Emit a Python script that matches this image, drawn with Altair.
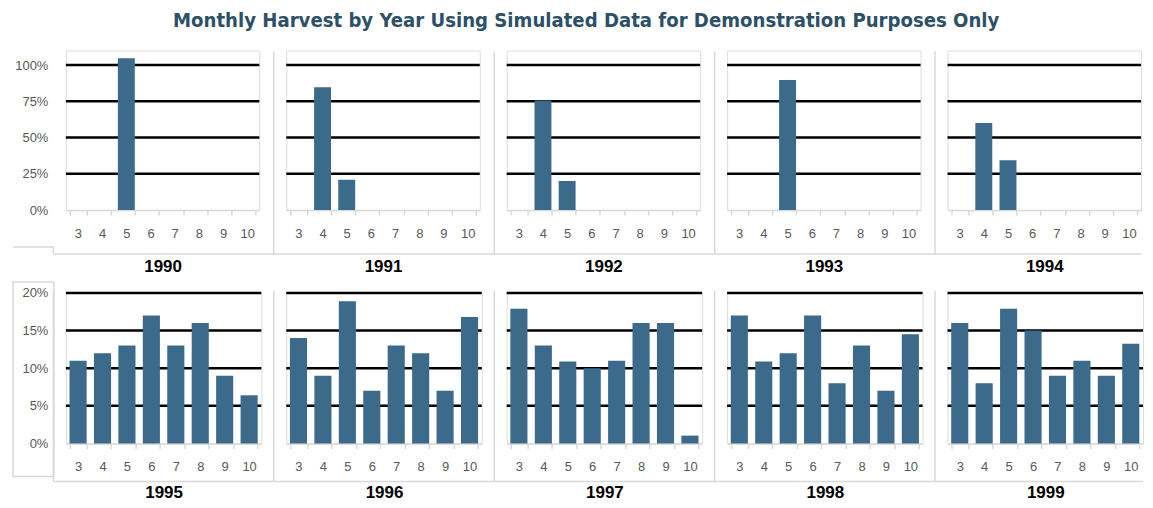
import altair as alt
import pandas as pd

months = [3, 4, 5, 6, 7, 8, 9, 10]
top_years = [1990, 1991, 1992, 1993, 1994]
bottom_years = [1995, 1996, 1997, 1998, 1999]

harvest_1990 = [0, 0, 1.046, 0, 0, 0, 0, 0]
harvest_1991 = [0, 0.847, 0.21, 0, 0, 0, 0, 0]
harvest_1992 = [0, 0.755, 0.20, 0, 0, 0, 0, 0]
harvest_1993 = [0, 0, 0.897, 0, 0, 0, 0, 0]
harvest_1994 = [0, 0.60, 0.343, 0, 0, 0, 0, 0]
harvest_1995 = [0.11, 0.12, 0.13, 0.17, 0.13, 0.16, 0.09, 0.064]
harvest_1996 = [0.14, 0.09, 0.189, 0.07, 0.13, 0.12, 0.07, 0.168]
harvest_1997 = [0.179, 0.13, 0.109, 0.10, 0.11, 0.16, 0.16, 0.0105]
harvest_1998 = [0.17, 0.109, 0.12, 0.17, 0.08, 0.13, 0.07, 0.145]
harvest_1999 = [0.16, 0.08, 0.179, 0.15, 0.09, 0.11, 0.09, 0.1325]

top_values = [harvest_1990, harvest_1991, harvest_1992, harvest_1993, harvest_1994]
bottom_values = [harvest_1995, harvest_1996, harvest_1997, harvest_1998, harvest_1999]

top_ticks = [0, 0.25, 0.5, 0.75, 1.0]
bottom_ticks = [0, 0.05, 0.10, 0.15, 0.20]

TITLE = "Monthly Harvest by Year Using Simulated Data for Demonstration Purposes Only"
BAR = "#3b6a8b"
BORDER = "#d9d9d9"
LABEL = "#595959"
FONT = "Liberation Sans"
TITLE_FONT = "DejaVu Sans Condensed, Liberation Sans Narrow, Roboto, sans-serif"
one = pd.DataFrame({"k": [0]})


def rule(x1, x2, y1, y2):
    return alt.Chart(one).mark_rule(color=BORDER, strokeWidth=1.5).encode(
        x=alt.value(x1), x2=alt.value(x2), y=alt.value(y1), y2=alt.value(y2)
    )


def panel(year, vals, col, top):
    w = 194 if top else 196
    h = 160 if top else 151
    ymax = 1.1 if top else 0.2
    ticks = top_ticks if top else bottom_ticks
    gap = 27 if top else 25
    df = pd.DataFrame({"month": months, "share": vals})
    grid_df = pd.DataFrame({"g": ticks[1:]})
    yscale = alt.Scale(domain=[0, ymax], nice=False, zero=True)
    if col == 0:
        yaxis = alt.Axis(values=ticks, format=".0%", grid=False, domain=False, ticks=False,
                         labelColor=LABEL, labelFontSize=13, labelFont=FONT,
                         labelPadding=18, title=None)
    else:
        yaxis = None
    xaxis = alt.Axis(title=str(year), labelAngle=0, tickBand="extent",
                     domainColor=BORDER, domainWidth=1.5, tickColor=BORDER, tickWidth=1.5,
                     tickSize=5, labelColor=LABEL, labelFontSize=13, labelFont=FONT,
                     labelPadding=12, titleFont=FONT, titleFontSize=17,
                     titleFontWeight="bold", titleColor="black",
                     titlePadding=19 if top else 11)

    layers = []
    bottom_y = h + 44 if top else h + 38
    right_end = (w + gap - 12.5) if col < 4 else w
    layers.append(rule(-12.5, right_end, bottom_y, bottom_y))
    if col > 0:
        layers.append(rule(-12.5, -12.5, 1 if top else -2, bottom_y))
    else:
        if top:
            layers.append(rule(-12.5, -12.5, bottom_y - 7, bottom_y))
            layers.append(rule(-53, -12.5, bottom_y - 7, bottom_y - 7))
        else:
            layers.append(rule(-12.5, -12.5, -2, bottom_y))
            layers.append(alt.Chart(one).mark_rect(fillOpacity=0, stroke=BORDER, strokeWidth=1.5).encode(
                x=alt.value(-53), x2=alt.value(-12), y=alt.value(-11), y2=alt.value(bottom_y - 5)))

    grid = alt.Chart(grid_df).mark_rule(color="black", strokeWidth=2.5).encode(
        y=alt.Y("g:Q", scale=yscale, axis=yaxis)
    )
    bars = alt.Chart(df).mark_bar(color=BAR).encode(
        x=alt.X("month:O", scale=alt.Scale(domain=months, paddingInner=0.3, paddingOuter=0.15), axis=xaxis),
        y=alt.Y("share:Q", scale=yscale, axis=yaxis),
    ).transform_filter(alt.datum.share > 0)
    layers += [grid, bars]
    return alt.layer(*layers).properties(width=w, height=h)


top_row = alt.hconcat(*[panel(y, v, i, True) for i, (y, v) in enumerate(zip(top_years, top_values))],
                      spacing=27, bounds="flush")
bottom_row = alt.hconcat(*[panel(y, v, i, False) for i, (y, v) in enumerate(zip(bottom_years, bottom_values))],
                         spacing=25, bounds="flush")

chart = alt.vconcat(top_row, bottom_row, spacing=4).properties(
    title=alt.Title(TITLE, font=TITLE_FONT, fontSize=20.2, fontWeight="bold",
                    color="#2d5069", anchor="middle", offset=19, dx=8),
    padding={"left": 3, "top": 2, "right": 0, "bottom": 0},
).configure_view(strokeWidth=0).configure(background="white")

chart.save("out.html", embed_options={"renderer": "svg", "actions": False})
